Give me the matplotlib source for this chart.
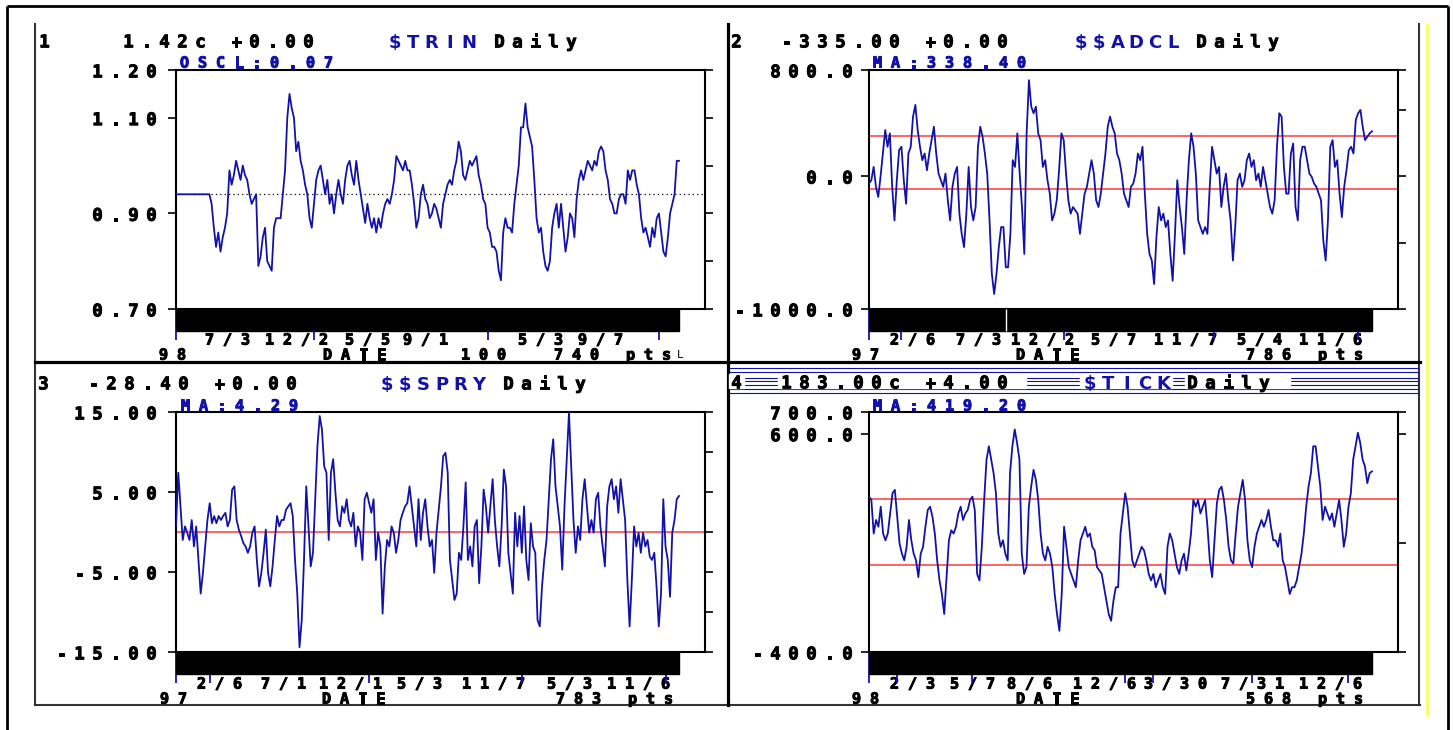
import matplotlib
matplotlib.use("Agg")
import matplotlib.pyplot as plt
import matplotlib.transforms as mtransforms
import matplotlib.patheffects as pe
from matplotlib.patches import Rectangle

W, H = 1453, 730
BLUE = "#1212aa"
RED = "#ff6464"
MONO = "DejaVu Sans Mono"

# ---- data ----
trin = [0.94, 0.94, 0.94, 0.94, 0.94, 0.94, 0.94, 0.94, 0.94, 0.94, 0.94, 0.94, 0.94, 0.94, 0.94, 0.94,
        0.92, 0.87, 0.83, 0.86, 0.82, 0.85, 0.87, 0.90, 0.99, 0.96,
        0.98, 1.01, 0.99, 0.97, 1.00, 0.98, 0.97, 0.94, 0.92, 0.93,
        0.94, 0.79, 0.81, 0.85, 0.87, 0.80, 0.79, 0.78, 0.87, 0.89,
        0.89, 0.89, 0.94, 0.99, 1.10, 1.15, 1.12, 1.10, 1.03, 1.05,
        1.01, 0.99, 0.96, 0.94, 0.89, 0.87, 0.92, 0.97, 0.99, 1.00,
        0.97, 0.94, 0.97, 0.92, 0.94, 0.90, 0.94, 0.97, 0.94, 0.92,
        0.97, 1.00, 1.01, 0.98, 0.96, 1.01, 0.97, 0.94, 0.91, 0.88,
        0.92, 0.89, 0.87, 0.89, 0.86, 0.89, 0.87, 0.90, 0.92, 0.93,
        0.92, 0.94, 0.97, 1.02, 1.01, 1.00, 0.99, 1.01, 0.99, 0.99,
        0.96, 0.92, 0.87, 0.89, 0.94, 0.96, 0.93, 0.92, 0.89, 0.90,
        0.92, 0.91, 0.89, 0.87, 0.92, 0.94, 0.96, 0.97, 0.96, 0.99,
        1.01, 1.05, 1.03, 0.98, 0.97, 0.99, 1.01, 1.00, 1.01, 1.02,
        0.98, 0.96, 0.93, 0.92, 0.87, 0.86, 0.83, 0.83, 0.82, 0.78,
        0.76, 0.86, 0.89, 0.87, 0.87, 0.86, 0.92, 0.96, 1.00, 1.08,
        1.08, 1.13, 1.08, 1.06, 1.04, 0.97, 0.89, 0.86, 0.87, 0.82,
        0.79, 0.78, 0.80, 0.87, 0.90, 0.92, 0.87, 0.92, 0.87, 0.82,
        0.85, 0.90, 0.89, 0.85, 0.93, 0.97, 0.99, 0.97, 0.99, 1.01,
        1.00, 0.99, 1.01, 1.00, 1.03, 1.04, 1.03, 0.99, 0.97, 0.93,
        0.92, 0.90, 0.90, 0.93, 0.94, 0.94, 0.92, 0.99, 0.97, 0.99,
        0.99, 0.96, 0.94, 0.89, 0.86, 0.87, 0.85, 0.83, 0.87, 0.85,
        0.89, 0.90, 0.86, 0.82, 0.81, 0.85, 0.90, 0.92, 0.94, 1.01, 1.01]
trin_oscl = 0.94

adcl = [-55, -30, 70, -80, -156, 0, 171, 348, 222, 323,
        -80, -333, -30, 197, 222, -30, -207, 171, 222, 449,
        537, 348, 222, 121, 171, 45, 171, 272, 373, 171,
        20, -30, -80, 20, -181, -333, -80, 20, 70, -282,
        -434, -534, -282, 70, -232, -333, -232, 222, 373, 297,
        171, 20, -333, -736, -887, -736, -534, -383, -383, -686,
        -686, -434, 121, 70, 323, 20, -232, -585, 323, 723,
        524, 474, 524, 323, 272, 70, 121, -30, -131, -333,
        -282, -181, 45, 323, 272, 20, -181, -282, -232, -257,
        -282, -434, -282, -131, -80, 20, 121, 20, -181, -232,
        -131, 20, 171, 373, 449, 373, 323, 171, 121, 20,
        -131, -181, -232, -80, -55, 20, 171, 121, 222, -131,
        -434, -585, -635, -812, -459, -232, -333, -282, -383, -333,
        -585, -787, -434, -30, -232, -383, -585, -181, 121, 323,
        222, 20, -333, -383, -434, -383, -434, -80, 222, 121,
        20, 70, -232, -80, 20, -181, -333, -635, -383, -30,
        20, -80, -30, 121, 171, 70, 121, -30, 20, -80,
        70, -30, -131, -232, -282, -181, 222, 474, 449, 70,
        -131, -131, 171, 247, -232, -333, 121, 222, 222, 121,
        20, -5, -55, -80, -131, -181, -484, -635, -333, 222,
        272, 70, 121, -131, -308, -80, 45, 197, 222, 171,
        423, 474, 499, 373, 272, 297, 323, 338]
adcl_bands = [300, -100]
adcl_gap = 59

spry = [0.7, 7.4, 3.2, -1.0, 0.7, -0.1, -1.0, 1.5, -1.8, 0.7,
        -3.5, -7.7, -5.1, -1.8, 1.5, 3.6, 1.1, 2.0, 1.1, 2.0,
        1.5, 2.0, 2.4, 0.7, 1.5, 5.3, 5.7, 1.5, 0.3, -0.5,
        -1.4, -1.8, -2.6, -1.8, -0.1, 0.7, -3.5, -6.8, -5.1, -2.6,
        0.3, -5.1, -6.8, -4.3, -1.0, 2.0, 0.7, 1.5, 1.5, 2.8,
        3.2, 3.6, 2.0, -3.5, -7.7, -14.4, -11.0, -3.5, 5.7, 0.7,
        -4.3, -2.6, 4.1, 10.8, 14.5, 12.8, 8.2, 7.4, -1.0, 7.4,
        9.1, 4.9, 1.5, 0.7, 3.2, 2.4, 4.1, 1.5, 0.7, 2.4,
        -1.8, 0.7, -0.1, -3.5, 4.1, 4.9, 3.6, 2.4, 4.1, -3.5,
        -0.1, -1.8, -10.2, -4.3, -1.0, -1.8, 0.7, -0.1, -2.6, -1.0,
        1.5, 2.4, 3.2, 3.6, 5.7, 3.2, 0.7, -1.8, 4.1, -1.0,
        2.4, 4.1, 0.7, -1.8, -1.0, -5.1, -0.1, 2.8, 5.7, 9.5,
        9.9, 7.4, -3.5, -6.0, -8.5, -7.7, -2.6, -3.5, 0.7, 6.2,
        -3.5, -1.8, -4.3, 0.7, 1.5, -6.4, -1.8, 5.3, 3.2, -0.1,
        3.2, 6.6, 1.5, -1.8, -4.3, 0.7, 7.8, 5.7, -2.6, -5.1,
        -7.7, 2.4, -1.8, 2.0, -2.6, 3.2, -3.5, -6.0, 1.1, -1.8,
        -2.6, -11.0, -11.8, -6.8, -3.5, -1.0, 4.1, 9.1, 11.6, 5.7,
        3.2, 0.7, -4.7, 3.2, 9.1, 14.9, 8.2, 1.5, -2.6, 0.7,
        -1.0, 4.1, 6.6, 3.2, -0.1, 1.5, -0.1, 4.1, 4.9, 0.7,
        -1.8, -4.3, 3.2, 5.7, 6.6, 4.1, 5.7, 2.4, 6.6, 4.1,
        1.5, -6.0, -11.8, -6.0, 0.7, -1.8, -0.1, -2.6, -0.1, -1.8,
        -1.0, -3.1, -3.5, -2.6, -6.8, -11.8, -7.7, 4.1, -1.8, -3.5,
        -8.1, -0.1, 1.5, 4.1, 4.5]
spry_bands = [0]

tick = [312, 297, 143, 205, 174, 266, 143, 112, 143, 235,
        328, 343, 220, 97, 51, 20, 82, 205, 112, 51,
        20, -57, 51, 82, 174, 251, 266, 220, 143, 20,
        -72, -134, -226, -57, 112, 158, 143, 174, 235, 266,
        205, 235, 251, 297, 312, 251, -42, -72, 82, 297,
        482, 543, 482, 420, 328, 143, 82, 112, 51, 20,
        420, 543, 620, 558, 482, 51, -42, -11, 266, 358,
        435, 389, 297, 143, 51, 20, 82, 51, -11, -134,
        -226, -303, -134, 174, 82, -11, -42, -72, -103, 20,
        112, 143, 174, 128, 143, 82, 66, -11, -26, -42,
        -103, -165, -226, -257, -165, -103, -103, 143, 235, 328,
        266, 143, 20, -11, 20, 51, 82, 66, 20, -42,
        -72, -42, -103, -72, -42, -103, -134, 82, 143, 112,
        51, -11, -42, 20, 51, -26, 51, 143, 297, 266,
        297, 235, 266, 297, 174, 20, -57, 112, 281, 343,
        358, 297, 205, 82, 20, 5, 143, 266, 328, 389,
        297, 112, 20, -11, 82, 143, 174, 205, 174, 205,
        251, 174, 112, 112, 82, 143, 20, -11, -72, -134,
        -103, -103, -72, -11, 51, 143, 266, 358, 420, 543,
        543, 451, 358, 205, 266, 235, 205, 235, 174, 235,
        297, 205, 82, 143, 266, 328, 482, 543, 605, 558,
        482, 451, 374, 420, 428]
tick_bands = [300, 0]

# y ticks: labelled ones (both sides) and right-side-only ones
trin_yt, trin_ym, trin_yl = [1.2, 1.1, 0.9, 0.7], [1.0, 0.8], ["1.20", "1.10", "0.90", "0.70"]
adcl_yt, adcl_ym, adcl_yl = [800, 0, -1000], [500, -500], ["800.0", "0.0", "-1000.0"]
spry_yt, spry_ym, spry_yl = [15, 5, -5, -15], [10, 0, -10], ["15.00", "5.00", "-5.00", "-15.00"]
tick_yt, tick_ym, tick_yl = [700, 600, -400], [100], ["700.0", "600.0", "-400.0"]

# date markers (index into series)
trin_dates = [0, 62, 140, 217]
adcl_dates = [0, 14, 84, 149, 211]
spry_dates = [0, 15, 86, 154, 218]
tick_dates = [0, 12, 44, 109, 121, 163, 204]

fig = plt.figure(figsize=(W / 100, H / 100), dpi=100)
canvas = fig.add_axes([0, 0, 1, 1])
canvas.set_xlim(0, W)
canvas.set_ylim(H, 0)
canvas.axis("off")


def dos_text(x, y, s, color="black", size=12.5, pitch=18, family=MONO,
             weight="bold", align="left", cw=11, zorder=5, thick=0.7):
    # old DOS screen font: fixed cell per character, slightly heavier strokes
    if align == "right":
        x = x - (len(s) - 1) * pitch - cw
    cap = size * 100 / 72 * 0.73
    fx = [pe.withStroke(linewidth=thick, foreground=color)] if thick else None
    for i, ch in enumerate(s):
        if ch != " ":
            canvas.text(x + cw / 2 + i * pitch, y + cap / 2, ch, color=color,
                        fontsize=size, family=family, weight=weight,
                        ha="center", va="baseline", zorder=zorder, path_effects=fx)


def make_panel(box, values, ylim, major, minor, ylabels, dates, label_right):
    l, t, r, b = box
    ax = fig.add_axes([l / W, 1 - b / H, (r - l) / W, (b - t) / H])
    n = len(values)
    ax.plot(range(n), values, color=BLUE, lw=1.3, zorder=3)
    ax.set_xlim(0, (n - 1) * 529 / 503)
    ax.set_ylim(*ylim)
    ax.set_yticks(major)
    ax.set_yticks(minor, minor=True)
    ax.tick_params(axis="y", which="both", direction="out", length=6, width=1.2,
                   right=True, labelleft=False)
    ax.tick_params(axis="y", which="minor", left=False)
    ax.set_xticks(dates)
    ax.tick_params(axis="x", direction="out", length=22, width=1.3, color=BLUE,
                   labelbottom=False)
    for sp in ax.spines.values():
        sp.set_linewidth(1.5)
    tr = mtransforms.blended_transform_factory(ax.transData, ax.transAxes)
    bh = 22 / (b - t)
    ax.add_patch(Rectangle((0, -bh), n - 1, bh, transform=tr, color="black",
                           clip_on=False, zorder=4))
    for v, lab in zip(major, ylabels):
        y = H - ax.transData.transform((0, v))[1]
        dos_text(label_right, y + 1, lab, align="right")
    return ax, tr, bh


# screen frames
frame = dict(color="black", lw=2, solid_capstyle="butt")
canvas.plot([7, 1448], [6, 6], **frame)
canvas.plot([7, 7], [6, H], **frame)
canvas.plot([1448, 1448], [6, H], **frame)
canvas.plot([35, 35], [24, 705], color="#333333", lw=1.5)
canvas.plot([1419, 1419], [24, 705], color="#333333", lw=1.5)
canvas.plot([35, 1420], [705, 705], color="#333333", lw=1.5)
canvas.plot([728, 728], [24, 705], color="black", lw=2.3)
canvas.plot([35, 1420], [362, 362], color="black", lw=2.3)
canvas.plot([1427, 1427], [24, 715], color="#ffff44", lw=1.8)

# panel 1: $TRIN
ax1, tr1, bh1 = make_panel((176, 70, 705, 309), trin, (0.70, 1.20), trin_yt, trin_ym,
                           trin_yl, trin_dates, 157)
ax1.axhline(trin_oscl, color="black", lw=0.9, ls=(0, (1, 2.5)), zorder=2)

# panel 2: $$ADCL
ax2, tr2, bh2 = make_panel((869, 70, 1398, 309), adcl, (-1000, 800), adcl_yt, adcl_ym,
                           adcl_yl, adcl_dates, 853)
for lv in adcl_bands:
    ax2.axhline(lv, color=RED, lw=1.4, zorder=2)
ax2.vlines(adcl_gap, -bh2, 0, transform=tr2, color="white", lw=1, clip_on=False, zorder=5)

# panel 3: $$SPRY
ax3, tr3, bh3 = make_panel((176, 412, 705, 652), spry, (-15, 15), spry_yt, spry_ym,
                           spry_yl, spry_dates, 157)
for lv in spry_bands:
    ax3.axhline(lv, color=RED, lw=1.4, zorder=2)

# panel 4: $TICK
ax4, tr4, bh4 = make_panel((869, 412, 1398, 652), tick, (-400, 700), tick_yt, tick_ym,
                           tick_yl, tick_dates, 853)
for lv in tick_bands:
    ax4.axhline(lv, color=RED, lw=1.4, zorder=2)
for i in (2, 4, 5):
    ax4.xaxis.get_major_ticks()[i].tick1line.set_color("black")

# active-window title bar of panel 4
canvas.hlines([368, 372, 378, 381, 385, 389, 393], 729, 1419, color=BLUE, lw=0.8, zorder=2)
for x0, x1 in [(729, 744), (778, 1026), (1080, 1172), (1185, 1290)]:
    canvas.add_patch(Rectangle((x0, 374), x1 - x0, 13.5, color="white", zorder=3))

# headers
dos_text(39, 41, "1")
dos_text(123, 41, "1.42c +0.00")
dos_text(388, 41, "$TRIN", color=BLUE, size=13, pitch=18.5, family="DejaVu Sans", cw=13, thick=0)
dos_text(494, 41, "Daily")
dos_text(179, 62, "OSCL:0.07", color=BLUE, size=11)

dos_text(731, 41, "2")
dos_text(781, 41, "-335.00 +0.00")
dos_text(1074, 41, "$$ADCL", color=BLUE, size=13, pitch=18.5, family="DejaVu Sans", cw=13, thick=0)
dos_text(1196, 41, "Daily")
dos_text(872, 62, "MA:338.40", color=BLUE, size=11)

dos_text(38, 383, "3")
dos_text(88, 383, "-28.40 +0.00")
dos_text(380, 383, "$$SPRY", color=BLUE, size=13, pitch=18.5, family="DejaVu Sans", cw=13, thick=0)
dos_text(503, 383, "Daily")
dos_text(180, 405, "MA:4.29", color=BLUE, size=11)

dos_text(731, 382, "4")
dos_text(781, 382, "183.00c +4.00")
dos_text(1083, 382, "$TICK", color=BLUE, size=13, pitch=18.5, family="DejaVu Sans", cw=13, thick=0)
dos_text(1187, 382, "Daily")
dos_text(872, 405, "MA:419.20", color=BLUE, size=11)

# date axis labels: two rows under each bar
TOP1, TOP2, BOT1, BOT2 = 339, 354, 683, 698
for x, s in [(204, "7/3"), (264, "12/2"), (344, "5/5"), (402, "9/1"), (517, "5/3"), (577, "9/7")]:
    dos_text(x, TOP1, s, size=11)
for x, s in [(158, "98"), (322, "DATE"), (460, "100"), (553, "740 pts")]:
    dos_text(x, TOP2, s, size=11)
dos_text(677, TOP2, "L", size=8, weight="normal", cw=7, thick=0)

for x, s in [(889, "2/6"), (955, "7/3"), (1010, "12/2"), (1090, "5/7"), (1153, "11/7"),
             (1236, "5/4"), (1298, "11/6")]:
    dos_text(x, TOP1, s, size=11)
for x, s in [(851, "97"), (1015, "DATE"), (1245, "786 pts")]:
    dos_text(x, TOP2, s, size=11)

for x, s in [(196, "2/6"), (260, "7/1"), (318, "12/1"), (396, "5/3"), (461, "11/7"),
             (546, "5/3"), (606, "11/6")]:
    dos_text(x, BOT1, s, size=11)
for x, s in [(159, "97"), (321, "DATE"), (555, "783 pts")]:
    dos_text(x, BOT2, s, size=11)

for x, s in [(889, "2/3"), (949, "5/7"), (1006, "8/6"), (1072, "12/6"), (1143, "3/30"),
             (1220, "7/31"), (1298, "12/6")]:
    dos_text(x, BOT1, s, size=11)
for x, s in [(851, "98"), (1015, "DATE"), (1245, "568 pts")]:
    dos_text(x, BOT2, s, size=11)

fig.savefig("out.png", dpi=100, facecolor="white")
